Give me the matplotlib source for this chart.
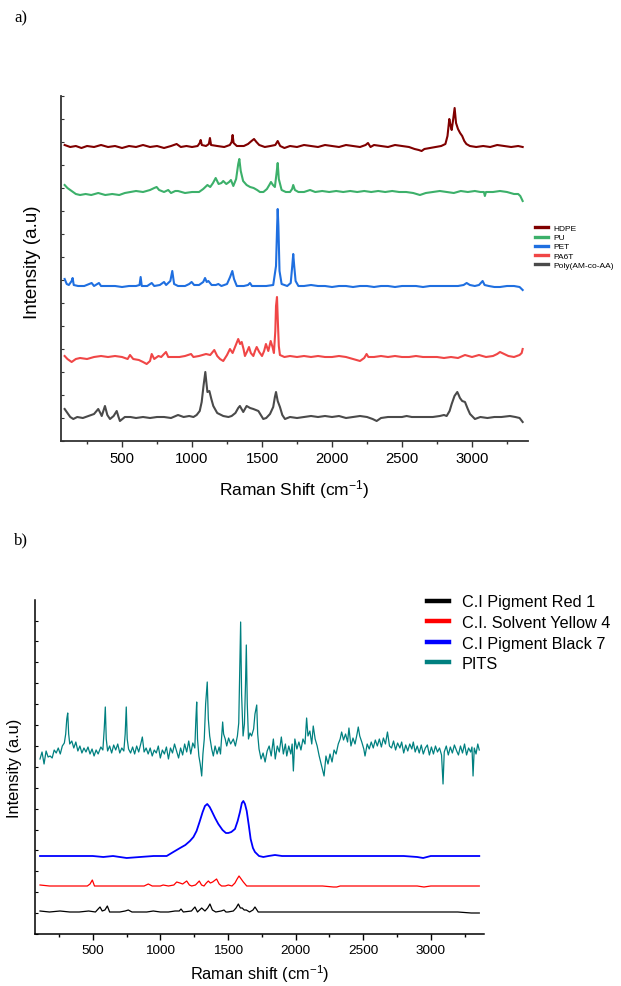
import matplotlib
matplotlib.use("Agg")
import matplotlib.pyplot as plt
from matplotlib.ticker import MultipleLocator

plt.rcParams['font.family'] = ['Liberation Sans', 'DejaVu Sans']
plt.rcParams['mathtext.fontset'] = 'custom'
plt.rcParams['mathtext.rm'] = 'Liberation Sans'
plt.rcParams['mathtext.it'] = 'Liberation Sans:italic'
plt.rcParams['mathtext.bf'] = 'Liberation Sans:bold'
plt.rcParams['axes.unicode_minus'] = False

# ---------------- Panel a data (Raman shift cm-1, stacked intensity a.u.) ----------------
hdpe = [(90,296),(130,294),(170,295),(210,293),(250,295),(300,294),(350,296),(400,294),(450,295),(500,293),
        (550,295),(600,294),(650,296),(700,294),(750,295),(800,293),(850,295),(890,297),(920,294),(960,295),
        (1000,294),(1040,295),(1055,298),(1062,301),(1070,296),(1100,295),(1120,297),(1128,303),(1136,296),
        (1180,295),(1230,294),(1270,296),(1283,299),(1290,306),(1297,298),(1320,295),(1370,295),(1400,297),
        (1425,300),(1443,302),(1460,299),(1480,296),(1520,294),(1560,295),(1595,296),(1612,300),(1630,295),
        (1660,293),(1700,295),(1750,294),(1800,296),(1850,295),(1900,294),(1950,296),(2000,295),(2050,294),
        (2100,296),(2150,295),(2200,294),(2240,296),(2257,298),(2275,294),(2300,296),(2350,295),(2400,294),
        (2450,296),(2500,295),(2550,294),(2590,292),(2620,291),(2640,290),(2660,292),(2700,293),(2740,294),
        (2780,295),(2810,297),(2825,305),(2838,322),(2846,316),(2855,311),(2866,322),(2876,333),(2886,318),
        (2900,312),(2915,308),(2930,305),(2945,300),(2960,297),(2985,295),(3030,294),(3080,295),(3130,294),
        (3180,296),(3230,295),(3280,294),(3330,295),(3362,294)]
pu = [(90,256),(110,253),(140,250),(170,247),(200,246),(240,247),(280,246),(330,248),(380,246),(430,247),
      (480,246),(520,248),(560,249),(600,250),(650,249),(700,251),(730,253),(747,254),(765,251),(800,249),
      (830,251),(850,248),(880,250),(900,250),(950,248),(1000,249),(1050,249),(1080,252),(1110,256),(1130,254),
      (1150,258),(1169,263),(1190,257),(1210,258),(1223,260),(1245,257),(1265,259),(1278,261),(1295,255),
      (1315,262),(1330,277),(1338,282),(1348,270),(1365,260),(1390,256),(1415,254),(1440,253),(1465,251),
      (1485,249),(1510,249),(1535,252),(1552,256),(1564,259),(1578,256),(1592,254),(1604,268),(1612,278),
      (1620,262),(1640,251),(1670,249),(1700,249),(1715,252),(1723,256),(1735,251),(1760,249),(1800,249),
      (1843,251),(1880,249),(1930,250),(1980,249),(2030,250),(2080,249),(2130,250),(2180,249),(2230,250),
      (2280,249),(2330,250),(2380,249),(2430,250),(2480,249),(2530,249),(2580,248),(2628,246),(2670,248),
      (2720,249),(2770,250),(2820,249),(2870,248),(2920,250),(2970,249),(3020,250),(3060,249),(3085,249),
      (3092,245),(3100,249),(3150,249),(3200,250),(3250,249),(3300,247),(3330,247),(3345,245),(3362,240)]
pet = [(90,162),(105,157),(120,156),(140,160),(147,163),(155,156),(186,155),(230,155),(283,158),(300,155),
       (335,158),(350,155),(400,155),(450,155),(500,154),(550,155),(600,155),(625,156),(633,164),(641,155),
       (680,155),(712,158),(730,155),(770,156),(800,159),(815,156),(845,160),(859,170),(872,157),(900,155),
       (950,155),(980,157),(997,159),(1015,156),(1050,156),(1080,159),(1093,163),(1105,159),(1117,160),
       (1140,156),(1170,156),(1188,157),(1210,155),(1250,157),(1272,164),(1288,170),(1300,162),(1320,155),
       (1370,155),(1400,156),(1414,158),(1428,155),(1480,155),(1530,155),(1580,156),(1600,175),(1608,215),
       (1612,232),(1617,215),(1625,170),(1640,157),(1680,155),(1705,158),(1716,175),(1723,187),(1730,175),
       (1740,160),(1760,155),(1800,155),(1850,156),(1900,155),(1950,155),(2000,154),(2050,155),(2100,155),
       (2150,154),(2200,155),(2250,155),(2300,154),(2350,155),(2400,155),(2450,154),(2500,155),(2550,155),
       (2600,155),(2650,154),(2700,155),(2750,155),(2800,155),(2850,155),(2900,155),(2940,156),(2962,158),
       (2985,156),(3020,155),(3050,156),(3076,160),(3090,156),(3120,155),(3160,154),(3200,154),(3250,155),
       (3300,155),(3340,154),(3362,151)]
pa6t = [(90,85),(110,82),(140,79),(170,82),(200,83),(250,82),(300,84),(350,85),(400,84),(450,85),(500,84),
        (540,82),(557,86),(580,82),(620,81),(650,79),(676,77),(700,80),(712,87),(730,82),(760,85),(780,84),
        (800,87),(814,89),(830,84),(870,84),(910,84),(950,85),(993,87),(1010,84),(1050,85),(1100,87),(1130,86),
        (1159,91),(1180,85),(1200,82),(1223,80),(1250,86),(1271,92),(1290,88),(1310,95),(1330,102),(1343,97),
        (1355,99),(1368,92),(1378,85),(1395,90),(1407,94),(1420,88),(1438,85),(1450,90),(1462,94),(1480,89),
        (1500,85),(1515,90),(1528,97),(1545,90),(1562,100),(1575,94),(1585,88),(1595,110),(1600,135),
        (1607,144),(1613,120),(1620,95),(1628,86),(1660,84),(1700,85),(1750,84),(1800,85),(1850,84),(1900,85),
        (1950,84),(2000,84),(2050,85),(2100,84),(2150,82),(2200,80),(2230,83),(2247,87),(2260,84),(2300,84),
        (2350,85),(2400,84),(2450,85),(2500,84),(2550,84),(2600,85),(2650,84),(2700,84),(2750,84),(2800,83),
        (2850,84),(2900,83),(2950,86),(3000,84),(3050,86),(3100,84),(3150,85),(3180,87),(3200,89),(3230,87),
        (3260,85),(3300,84),(3340,86),(3355,88),(3362,92)]
poly = [(90,32),(110,28),(130,24),(152,22),(180,24),(220,23),(260,25),(300,27),(330,32),(345,28),(355,25),
        (378,35),(395,26),(414,22),(440,25),(462,30),(475,24),(485,20),(520,24),(560,24),(600,23),(650,24),
        (700,23),(750,24),(800,24),(850,23),(900,26),(940,24),(980,25),(1010,24),(1033,26),(1055,30),(1069,39),
        (1082,55),(1095,69),(1103,58),(1110,49),(1124,50),(1138,42),(1152,35),(1180,28),(1223,25),(1260,24),
        (1283,25),(1310,28),(1330,33),(1342,35),(1366,29),(1390,35),(1415,33),(1438,32),(1474,30),(1509,22),
        (1530,23),(1557,27),(1580,34),(1592,44),(1600,49),(1612,40),(1628,34),(1645,26),(1664,22),(1700,24),
        (1750,23),(1800,24),(1850,25),(1900,24),(1950,25),(2000,24),(2050,25),(2100,23),(2150,24),(2200,25),
        (2250,24),(2290,22),(2319,20),(2350,23),(2400,24),(2450,24),(2500,24),(2533,25),(2570,24),(2620,24),
        (2670,24),(2720,24),(2770,25),(2800,26),(2819,25),(2840,30),(2855,37),(2875,45),(2895,49),(2905,46),
        (2914,43),(2930,40),(2950,39),(2970,32),(2986,27),(3021,22),(3060,24),(3110,23),(3160,24),(3210,24),
        (3271,25),(3310,24),(3340,23),(3362,19)]
labels_a = ["HDPE", "PU", "PET", "PA6T", "Poly(AM-co-AA)"]
colors_a = ["#800000", "#3cb06a", "#1f6fe0", "#f04646", "#4a4a4a"]

# ---------------- Panel b data ----------------
red1 = [(110,23),(180,22),(258,23),(330,22),(400,22),(470,23),(520,22),(540,25),(554,27),(570,23),(590,24),
        (608,28),(625,22),(700,22),(740,23),(763,24),(790,22),(850,22),(900,22),(948,23),(1000,22),(1060,22),
        (1109,23),(1140,23),(1153,25),(1170,22),(1230,23),(1256,27),(1275,22),(1306,26),(1330,23),(1350,26),
        (1367,30),(1385,24),(1410,22),(1450,23),(1471,24),(1485,22),(1500,22),(1540,23),(1560,26),(1577,30),
        (1592,26),(1606,26),(1620,24),(1636,24),(1660,22),(1685,24),(1700,27),(1724,22),(1800,22),(1900,22),
        (2000,22),(2100,22),(2200,22),(2300,22),(2400,22),(2500,22),(2600,22),(2700,22),(2800,22),(2900,22),
        (3000,22),(3100,22),(3200,22),(3300,21),(3359,21)]
yellow4 = [(110,49),(180,48),(258,48),(330,48),(400,48),(460,48),(480,50),(497,54),(513,48),(600,48),
           (700,48),(800,48),(880,48),(911,50),(940,48),(1000,48),(1021,49),(1060,48),(1100,49),(1121,52),
           (1145,51),(1165,50),(1195,53),(1215,49),(1232,48),(1260,49),(1288,53),(1305,49),(1323,48),(1340,51),
           (1355,53),(1370,51),(1387,52),(1416,55),(1435,50),(1453,48),(1480,48),(1503,49),(1530,48),(1552,51),
           (1568,55),(1582,58),(1598,55),(1614,52),(1639,48),(1700,48),(1800,48),(1900,48),(2000,48),(2100,48),
           (2200,48),(2280,47),(2305,47),(2330,48),(2400,48),(2500,48),(2600,48),(2700,48),(2800,48),(2900,48),
           (2950,47),(3000,48),(3100,48),(3200,48),(3300,48),(3359,48)]
black7 = [(110,78),(200,78),(300,78),(400,78),(500,78),(578,77),(650,78),(751,76),(850,77),(950,78),(1047,78),
          (1096,82),(1146,86),(1185,89),(1219,93),(1245,97),(1268,103),(1290,112),(1313,122),(1330,128),
          (1347,130),(1365,127),(1380,123),(1405,116),(1429,110),(1460,104),(1485,101),(1503,101),(1525,102),
          (1552,105),(1572,113),(1589,122),(1603,131),(1614,133),(1626,130),(1639,123),(1655,108),(1668,95),
          (1685,86),(1700,82),(1730,78),(1762,77),(1800,78),(1848,79),(1900,78),(2000,78),(2100,78),(2200,78),
          (2300,78),(2400,78),(2500,78),(2600,78),(2700,78),(2800,78),(2900,77),(2944,76),(3000,78),(3100,78),
          (3200,78),(3300,78),(3359,78)]
pits = [(110,175),(125,182),(140,170),(155,183),(170,177),(185,178),(200,176),(215,184),(230,181),(245,186),
        (260,180),(275,188),(290,191),(300,200),(308,215),(315,221),(322,200),(330,190),(345,193),(360,186),
        (375,192),(390,183),(405,188),(420,181),(435,186),(450,182),(465,187),(480,180),(495,185),(510,178),
        (525,184),(540,180),(560,187),(575,184),(585,205),(593,227),(600,195),(610,183),(625,188),(640,181),
        (655,189),(670,184),(685,190),(700,181),(715,186),(730,183),(740,200),(748,227),(755,195),(765,185),
        (780,181),(795,187),(810,180),(825,188),(840,182),(855,190),(867,197),(880,182),(895,186),(910,180),
        (925,186),(940,178),(955,184),(970,181),(985,188),(1000,176),(1015,184),(1030,180),(1045,187),
        (1060,175),(1075,186),(1090,181),(1105,190),(1120,183),(1135,176),(1150,186),(1165,179),(1180,190),
        (1195,182),(1210,193),(1225,180),(1240,191),(1255,186),(1263,215),(1269,232),(1275,195),(1285,178),
        (1295,170),(1306,158),(1315,180),(1325,195),(1335,230),(1347,252),(1355,215),(1365,198),(1380,185),
        (1392,178),(1405,188),(1420,180),(1435,187),(1445,180),(1455,200),(1461,212),(1468,200),(1480,195),
        (1491,188),(1505,196),(1520,190),(1540,195),(1555,188),(1570,198),(1580,211),(1587,260),(1594,312),
        (1601,240),(1612,198),(1622,210),(1630,250),(1636,289),(1643,230),(1652,195),(1663,201),(1675,198),
        (1690,205),(1700,220),(1713,229),(1720,200),(1730,185),(1745,175),(1760,181),(1775,172),(1790,183),
        (1805,188),(1820,178),(1836,195),(1850,175),(1865,188),(1880,182),(1895,197),(1910,180),(1925,190),
        (1935,178),(1950,188),(1965,180),(1975,190),(1984,163),(1995,195),(2010,185),(2025,192),(2040,184),
        (2055,195),(2070,190),(2082,216),(2092,198),(2106,203),(2120,190),(2131,208),(2145,195),(2160,188),
        (2175,178),(2193,168),(2211,158),(2225,178),(2240,170),(2255,180),(2270,172),(2285,184),(2300,180),
        (2316,190),(2330,195),(2341,202),(2355,194),(2370,200),(2385,192),(2395,206),(2410,188),(2425,196),
        (2440,190),(2455,200),(2464,207),(2475,198),(2490,192),(2505,185),(2514,178),(2530,190),(2545,185),
        (2560,192),(2575,186),(2590,194),(2605,188),(2620,195),(2635,187),(2650,196),(2665,190),(2680,202),
        (2695,188),(2710,186),(2725,193),(2740,184),(2755,191),(2772,186),(2785,192),(2800,181),(2815,189),
        (2830,183),(2845,190),(2860,185),(2871,192),(2885,182),(2900,188),(2915,181),(2930,189),(2945,180),
        (2960,186),(2975,189),(2990,179),(3005,187),(3020,180),(3035,188),(3050,182),(3065,186),(3080,179),
        (3091,150),(3100,182),(3115,188),(3130,179),(3145,187),(3160,181),(3175,189),(3192,183),(3205,179),
        (3220,188),(3235,181),(3250,190),(3265,179),(3280,186),(3295,182),(3305,187),(3313,158),(3322,186),
        (3335,180),(3348,190),(3359,184)]
labels_b = ["C.I Pigment Red 1", "C.I. Solvent Yellow 4", "C.I Pigment Black 7", "PITS"]
colors_b = ["#000000", "#ff0000", "#0000ff", "#008080"]

W, H = 621, 987
fig = plt.figure(figsize=(W / 100, H / 100), dpi=100)


def style_axes(ax, spine_color, spine_lw, ytick_step, tick_fs):
    for s in ("top", "right"):
        ax.spines[s].set_visible(False)
    for s in ("left", "bottom"):
        ax.spines[s].set_color(spine_color)
        ax.spines[s].set_linewidth(spine_lw)
    ax.xaxis.set_major_locator(MultipleLocator(500))
    ax.xaxis.set_minor_locator(MultipleLocator(250))
    ax.yaxis.set_major_locator(MultipleLocator(ytick_step))
    ax.tick_params(axis="x", which="major", direction="out", length=4, width=1,
                   color=spine_color, labelsize=tick_fs, pad=3)
    ax.tick_params(axis="x", which="minor", direction="out", length=2.5, width=1, color=spine_color)
    ax.tick_params(axis="y", which="major", direction="in", length=2.5, width=0.8,
                   color=spine_color, labelleft=False)


# ---------------- Panel a ----------------
axa = fig.add_axes([61 / W, 1 - 442 / H, (527.7 - 61) / W, (442 - 97) / H])
for series, lab, col in zip([hdpe, pu, pet, pa6t, poly], labels_a, colors_a):
    xs, ys = zip(*series)
    axa.plot(xs, ys, color=col, lw=1.5, label=lab, solid_joinstyle="round")
axa.set_xlim(64, 3398)
axa.set_ylim(0, 345)
style_axes(axa, "#333333", 1.3, 23, 10.7)
axa.set_xlabel("Raman Shift (cm$^{-1}$)", fontsize=12.5)
axa.xaxis.set_label_coords(0.5, (442 - 478) / 345)
axa.xaxis.label.set_va("top")
axa.set_ylabel("Intensity (a.u)", fontsize=13.5)
axa.yaxis.set_label_coords((41 - 61) / (527.7 - 61), 0.52)
leg_a = fig.legend(*axa.get_legend_handles_labels(), loc="upper left",
                   bbox_to_anchor=(535 / W, 1 - 225.5 / H), frameon=False, fontsize=6,
                   borderpad=0, borderaxespad=0, handlelength=1.6, handletextpad=0.6,
                   labelspacing=0.15)
for h in leg_a.legend_handles:
    h.set_linewidth(2.4)

# ---------------- Panel b ----------------
axb = fig.add_axes([35 / W, 1 - 935 / H, (484 - 35) / W, (935 - 601) / H])
for series, lab, col in zip([red1, yellow4, black7, pits], labels_b, colors_b):
    xs, ys = zip(*series)
    lw = 1.3 if col == "#0000ff" else 0.9
    axb.plot(xs, ys, color=col, lw=lw, label=lab)
axb.set_xlim(73, 3394)
axb.set_ylim(0, 334)
style_axes(axb, "#000000", 1.1, 20.9, 9.7)
axb.set_xlabel("Raman shift (cm$^{-1}$)", fontsize=11.8)
axb.xaxis.set_label_coords(0.5, (935 - 963) / 334)
axb.xaxis.label.set_va("top")
axb.set_ylabel("Intensity (a.u)", fontsize=11.8)
axb.yaxis.set_label_coords((22 - 35) / (484 - 35), 0.5)
leg_b = fig.legend(*axb.get_legend_handles_labels(), loc="upper left",
                   bbox_to_anchor=(427 / W, 1 - 595.5 / H), frameon=False, fontsize=11.7,
                   borderpad=0, borderaxespad=0, handlelength=1.35, handletextpad=0.8,
                   labelspacing=0.34)
for h in leg_b.legend_handles:
    h.set_linewidth(3.2)

# panel letters
fig.text(14 / W, 1 - 18 / H, "a)", family="Liberation Serif", fontsize=12, va="center", ha="left")
fig.text(14 / W, 1 - 540 / H, "b)", family="Liberation Serif", fontsize=12, va="center", ha="left")

fig.savefig("out.png", dpi=100)
